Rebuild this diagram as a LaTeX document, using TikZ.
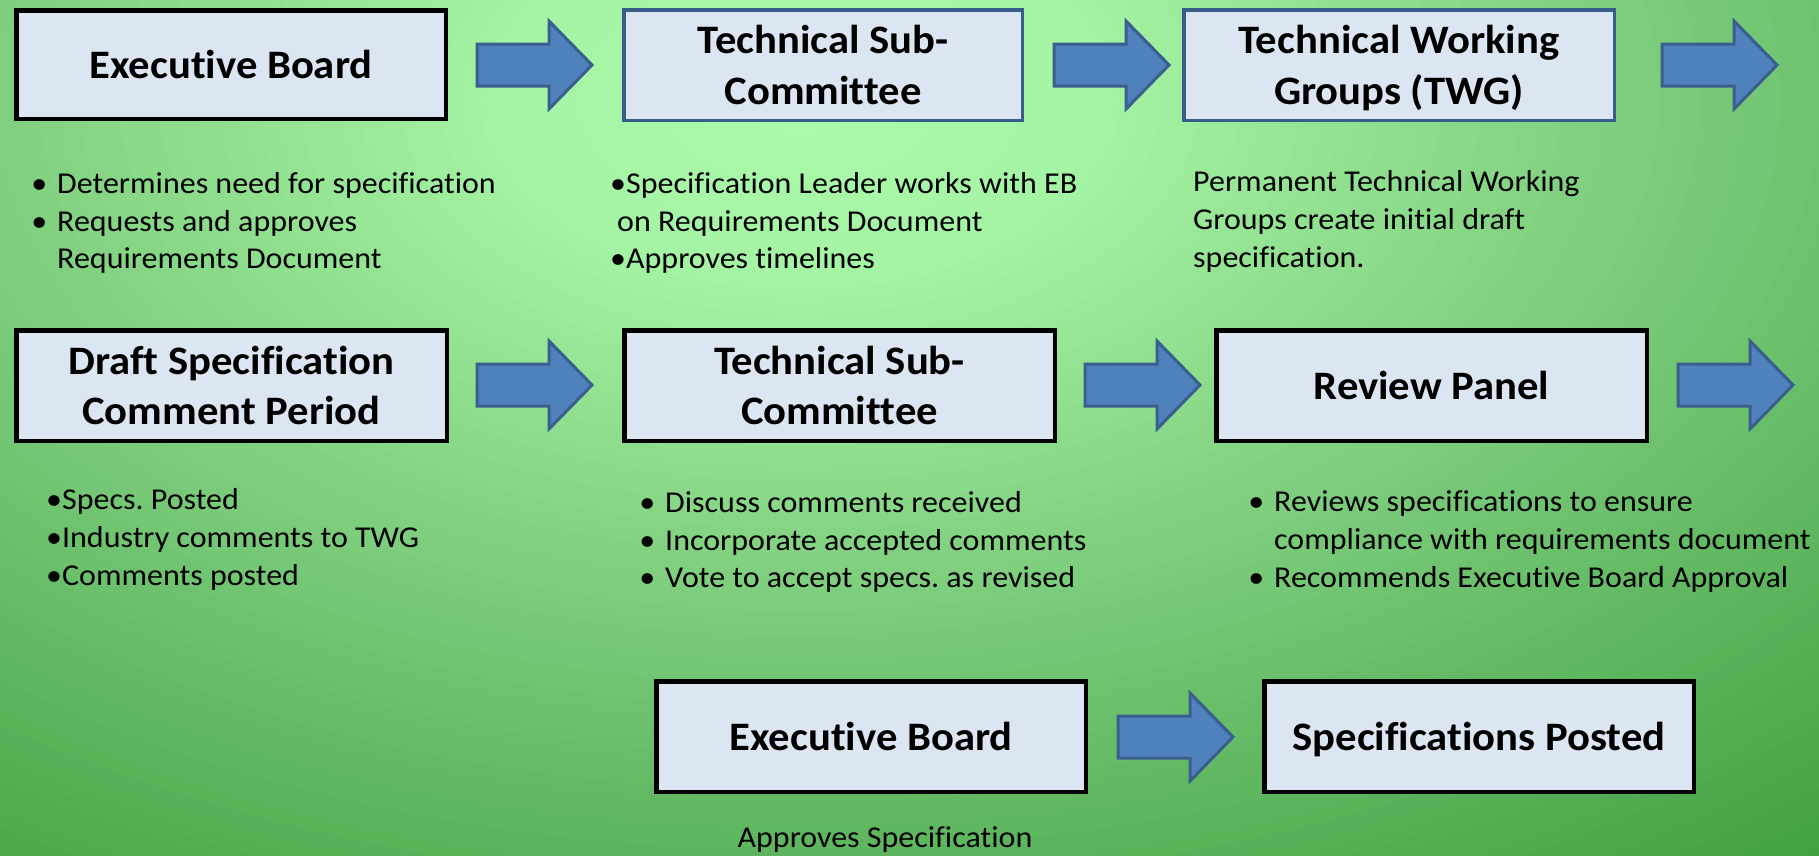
\documentclass[tikz,border=0pt]{standalone}
\usepackage{fontspec}
\setmainfont[Ligatures={NoCommon}, FakeStretch=1.056]{Carlito}
\frenchspacing
\definecolor{boxfill}{HTML}{DCE6F2}
\definecolor{blueborder}{HTML}{385D8A}
\definecolor{arrowfill}{HTML}{4F81BD}
\definecolor{arrowborder}{HTML}{3A5F8E}
\definecolor{bga}{RGB}{172,251,172}
\definecolor{bgb}{RGB}{164,244,164}
\definecolor{bgc}{RGB}{128,208,128}
\definecolor{bgd}{RGB}{62,158,62}
\newcommand\bul{\llap{•\hspace{10pt}}}
\newcommand\barrow[2]{\coordinate (#1) at (#2);
 \draw[blockarrow] (#1) ++(0,-21) -- ++(72,0) -- ++(0,-23) -- ++(43,44) -- ++(-43,44) -- ++(0,-23) -- ++(-72,0) -- cycle;}
\begin{document}
\begin{tikzpicture}[x=1pt,y=-1pt,
 box/.style={draw=black, line width=4.5, fill=boxfill, inner sep=0, align=center,
   text depth=0pt, font=\fontsize{40.4}{50.5}\selectfont\bfseries},
 bluebox/.style={box, draw=blueborder, line width=3.5},
 blockarrow/.style={draw=arrowborder, fill=arrowfill, line width=3, line join=miter},
 txt/.style={anchor=base west, inner sep=0, font=\fontsize{30.3}{37}\selectfont},
]
\useasboundingbox (0,0) rectangle (1819,855);
% background gradient (concentric ellipses)
\begin{scope}
\clip (0,0) rectangle (1819,855);
\fill[bgd] (0,0) rectangle (1819,855);
\foreach \r in {1800,1780,...,20} {
  \ifdim \r pt>800pt
    \pgfmathsetmacro\p{min(100,(\r-800)/882*100)}
    \fill[color=bgd!\p!bgc] (800,100) ellipse [x radius=\r, y radius=\r/1.68];
  \else\ifdim \r pt>300pt
    \pgfmathsetmacro\p{(\r-300)/500*100}
    \fill[color=bgc!\p!bgb] (800,100) ellipse [x radius=\r, y radius=\r/1.68];
  \else
    \pgfmathsetmacro\p{\r/300*100}
    \fill[color=bgb!\p!bga] (800,100) ellipse [x radius=\r, y radius=\r/1.68];
  \fi\fi
}
\end{scope}

% row 1
\node[box, minimum width=429.5, minimum height=108.5] (b1) at (231,64.5) {Executive Board};
\node[bluebox, minimum width=398.5, minimum height=110.5] (b2) at (823,65) {Technical Sub-\\Committee};
\node[bluebox, minimum width=430.5, minimum height=110.5] (b3) at (1399,65) {Technical Working\\Groups (TWG)};
\barrow{a1}{477,65}
\barrow{a2}{1054,65}
\barrow{a3}{1662,65}

% row 2
\node[box, minimum width=430.5, minimum height=110.5] (b4) at (231.5,385.5) {Draft Specification\\Comment Period};
\node[box, minimum width=430.5, minimum height=110.5] (b5) at (839.5,385.5) {Technical Sub-\\Committee};
\node[box, minimum width=430.5, minimum height=110.5] (b6) at (1431.5,385.5) {Review Panel};
\barrow{a4}{477,385}
\barrow{a5}{1085,385}
\barrow{a6}{1678,385}

% row 3
\node[box, minimum width=429.5, minimum height=110.5] (b7) at (871,736.5) {Executive Board};
\node[box, minimum width=429.5, minimum height=110.5] (b8) at (1479,736.5) {Specifications Posted};
\barrow{a7}{1118,737}

% texts row 1
\node[txt] (t1a) at (57,193) {\bul Determines need for specification};
\node[txt] (t1b) at (57,231) {\bul Requests and approves};
\node[txt] (t1c) at (57,268) {Requirements Document};
\node[txt] (t2a) at (610,193) {•Specification Leader works with EB};
\node[txt] (t2b) at (617,231) {on Requirements Document};
\node[txt] (t2c) at (610,268) {•Approves timelines};
\node[txt] (t3a) at (1193,191) {Permanent Technical Working};
\node[txt] (t3b) at (1193,229) {Groups create initial draft};
\node[txt] (t3c) at (1193,267) {specification.};

% texts row 2
\node[txt] (t4a) at (46,509) {•Specs. Posted};
\node[txt] (t4b) at (46,547) {•Industry comments to TWG};
\node[txt] (t4c) at (46,585) {•Comments posted};
\node[txt] (t5a) at (665,512) {\bul Discuss comments received};
\node[txt] (t5b) at (665,550) {\bul Incorporate accepted comments};
\node[txt] (t5c) at (665,587) {\bul Vote to accept specs. as revised};
\node[txt] (t6a) at (1274,511) {\bul Reviews specifications to ensure};
\node[txt] (t6b) at (1274,549) {compliance with requirements document};
\node[txt] (t6c) at (1274,587) {\bul Recommends Executive Board Approval};

% text row 3
\node[txt, anchor=base] (t7) at (885,847) {Approves Specification};
\end{tikzpicture}
\end{document}
